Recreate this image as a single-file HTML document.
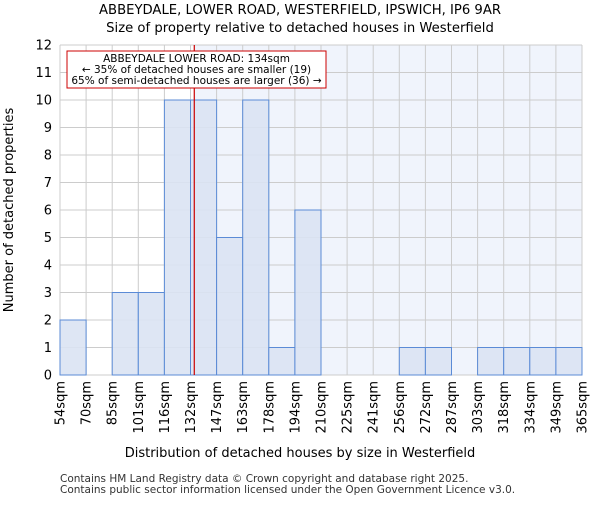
<!DOCTYPE html>
<html><head><meta charset="utf-8"><style>
body{margin:0;background:#fff;}
svg{font-family:"DejaVu Sans","Liberation Sans",sans-serif;}
</style></head><body>
<svg id="chart" width="600" height="500" xmlns="http://www.w3.org/2000/svg">
<text x="300" y="14" text-anchor="middle" font-size="13.2">ABBEYDALE, LOWER ROAD, WESTERFIELD, IPSWICH, IP6 9AR</text>
<text x="300" y="32" text-anchor="middle" font-size="13.2">Size of property relative to detached houses in Westerfield</text>
<g id="plot"></g>
<text x="300" y="457" text-anchor="middle" font-size="13">Distribution of detached houses by size in Westerfield</text>
<text transform="translate(13,210) rotate(-90)" text-anchor="middle" font-size="13">Number of detached properties</text>
<text x="60" y="482" font-size="10.5" fill="#333">Contains HM Land Registry data © Crown copyright and database right 2025.</text>
<text x="60" y="493" font-size="10.5" fill="#333">Contains public sector information licensed under the Open Government Licence v3.0.</text>
</svg>
<script>
const binLabels=["54sqm","70sqm","85sqm","101sqm","116sqm","132sqm","147sqm","163sqm","178sqm","194sqm","210sqm","225sqm","241sqm","256sqm","272sqm","287sqm","303sqm","318sqm","334sqm","349sqm","365sqm"];
const counts=[2,0,3,3,10,10,5,10,1,6,0,0,0,1,1,0,1,1,1,1];
const yTicks=[0,1,2,3,4,5,6,7,8,9,10,11,12];
const propertySize=134;
const xMinV=54,xMaxV=365;
const L=60,R=582,T=45,B=375,yMax=12;
const NS="http://www.w3.org/2000/svg";
const g=document.getElementById('plot');
const xb=i=>L+i*(R-L)/counts.length;
const xv=v=>L+(v-xMinV)/(xMaxV-xMinV)*(R-L);
const y=v=>B-v/yMax*(B-T);
function mk(t,a){const e=document.createElementNS(NS,t);for(const k in a)e.setAttribute(k,a[k]);g.appendChild(e);return e;}
const px=xv(propertySize);
let e=mk('rect',{x:px,y:T,width:R-px,height:B-T,fill:'#f0f4fc'});


yTicks.forEach(t=>{
 let l=mk('line',{x1:L,x2:R,y1:y(t),y2:y(t),stroke:'#cccccc','stroke-width':1});
 
 
 let tx=mk('text',{x:L-8,y:y(t)+4.5,'text-anchor':'end','font-size':13});
 tx.textContent=t;
 
 
});
binLabels.forEach((lb,i)=>{
 let l=mk('line',{x1:xb(i),x2:xb(i),y1:T,y2:B,stroke:'#cccccc','stroke-width':1});
 
 
 let tx=mk('text',{transform:`translate(${xb(i)+4.5},381) rotate(-90)`,'text-anchor':'end','font-size':13});
 tx.textContent=lb;
 
 
});
counts.forEach((c,i)=>{
 if(c<=0)return;
 let r=mk('rect',{x:xb(i),y:y(c),width:xb(i+1)-xb(i),height:B-y(c),fill:'#dae3f3','fill-opacity':0.9,stroke:'#5b8bd6','stroke-width':1});
 
 
});
e=mk('line',{x1:px,x2:px,y1:T,y2:B,stroke:'#cc0000','stroke-width':1.2});


e=mk('rect',{x:67,y:51,width:259,height:37,fill:'#fff',stroke:'#cc0000','stroke-width':1});


[["ABBEYDALE LOWER ROAD: 134sqm",62],["← 35% of detached houses are smaller (19)",73],["65% of semi-detached houses are larger (36) →",84]].forEach(([s,yy])=>{
 let t=mk('text',{x:196.5,y:yy,'text-anchor':'middle','font-size':10.5});
 t.textContent=s;
 
 
});
</script>
</body></html>
